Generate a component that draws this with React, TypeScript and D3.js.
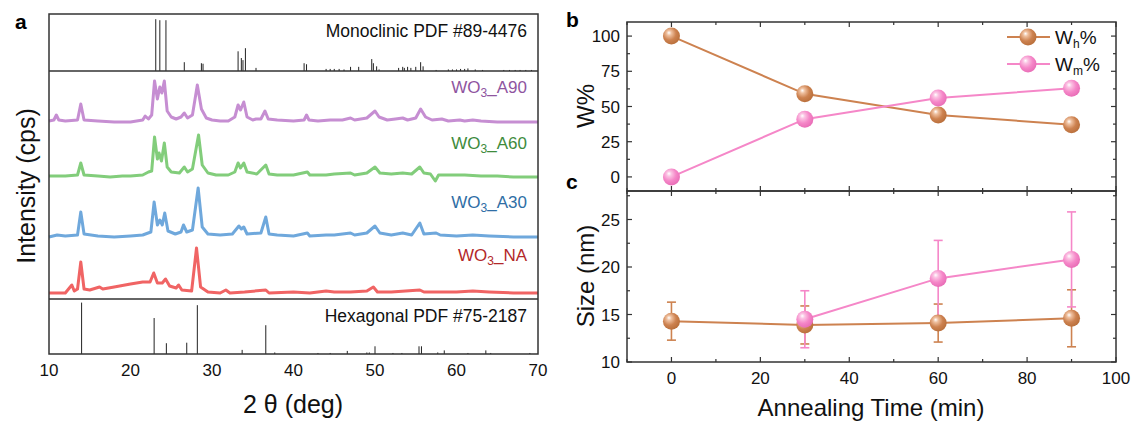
import React from 'react';
import * as d3 from 'd3';

// ---- panel a data (2θ in deg, intensity above each trace's baseline) ----
const monoclinicRef: [number, number][] = [
  [23.1, 100], [23.6, 98], [24.35, 98], [26.6, 17], [28.7, 15], [28.9, 14],
  [33.2, 38], [33.6, 25], [33.8, 21], [34.1, 44], [35.4, 6], [41.3, 15], [41.6, 13],
  [44.0, 4], [44.5, 4], [45.0, 4], [45.6, 4], [46.2, 3], [47.0, 8], [48.0, 8],
  [49.6, 23], [49.8, 15], [50.2, 9], [50.5, 3], [52.9, 6], [53.4, 8], [53.6, 6],
  [54.0, 8], [54.4, 6], [55.0, 8], [55.6, 17], [55.9, 9], [57.5, 2], [59.0, 3],
  [59.5, 3], [60.0, 3], [60.5, 4], [61.0, 4], [61.4, 5], [62.3, 3], [63.2, 2],
  [65.8, 2], [66.5, 2], [67.2, 2], [67.8, 2], [68.5, 2], [69.2, 2],
];

const hexagonalRef: [number, number][] = [
  [14.0, 100], [22.9, 70], [24.4, 21], [26.9, 22], [28.2, 95], [33.7, 8], [36.6, 56],
  [37.7, 3], [43.0, 2], [44.5, 2], [46.6, 6], [49.0, 3], [49.3, 3], [50.0, 15],
  [52.2, 2], [53.3, 2], [55.4, 15], [55.7, 15], [57.7, 3], [58.5, 7], [61.4, 2],
  [63.6, 7], [64.2, 2], [69.0, 2],
];

const xrdA90: [number, number][] = [
  [10, 2], [10.6, 3], [10.9, 8], [11.2, 3], [12, 2], [13.5, 3], [13.9, 19], [14.3, 3], [16, 2],
  [18, 1], [20, 1], [21.5, 3], [21.8, 7], [22.2, 4], [22.6, 8], [22.95, 42], [23.3, 24],
  [23.6, 36], [23.85, 30], [24.15, 42], [24.5, 12], [25, 6], [25.6, 4], [26.2, 6], [26.6, 10],
  [27, 5], [27.6, 8], [28.2, 38], [28.7, 14], [29.3, 5], [30, 3], [31, 2], [32, 2], [32.8, 6],
  [33.2, 18], [33.5, 13], [33.9, 21], [34.3, 6], [35, 3], [35.4, 4], [36, 4], [36.5, 12],
  [36.9, 4], [38, 3], [40, 2], [41.3, 3], [41.6, 8], [41.9, 3], [43, 2], [44.5, 3], [46, 3],
  [47, 5], [47.5, 3], [49, 5], [50, 12], [50.5, 6], [51.5, 3], [52.5, 4], [53.4, 5], [54, 3],
  [55, 5], [55.6, 14], [56.2, 6], [57, 3], [58.2, 4], [59, 2], [60.4, 3], [61, 2], [62, 3],
  [63, 2], [65, 1], [67, 1], [70, 1],
];

const xrdA60: [number, number][] = [
  [10, 1], [12, 1], [13.5, 2], [13.9, 14], [14.3, 2], [16, 1], [17.5, 0], [19, 1], [20, 1],
  [21.5, 2], [22.2, 5], [22.6, 6], [22.95, 40], [23.3, 18], [23.5, 24], [23.8, 16], [24.15, 34],
  [24.5, 10], [25, 5], [26, 4], [26.6, 10], [27, 5], [27.6, 8], [28.35, 42], [28.8, 12],
  [29.5, 4], [30.5, 2], [32, 2], [32.8, 5], [33.2, 14], [33.5, 9], [33.9, 14], [34.3, 5],
  [35.5, 3], [36.6, 12], [37, 3], [38, 2], [40, 2], [41.7, 5], [42, 2], [44, 2], [45, 3],
  [47, 4], [47.5, 2], [49, 4], [50, 10], [50.6, 4], [52, 3], [53.4, 4], [54.5, 3], [55.5, 10],
  [56, 4], [56.8, 3], [57.4, -4], [57.8, 2], [59, 2], [61, 2], [63, 1], [65, 1], [67, 0], [70, 0],
];

const xrdA30: [number, number][] = [
  [10, 0], [11, 2], [12, 1], [13.5, 2], [13.9, 25], [14.3, 3], [16, 1], [18, 0], [20, 1],
  [21.5, 2], [22.5, 5], [22.9, 35], [23.3, 12], [23.6, 17], [23.9, 12], [24.2, 24], [24.6, 6],
  [25.5, 3], [26.2, 5], [26.5, 12], [26.9, 5], [27.6, 7], [28.3, 49], [28.8, 10], [29.5, 3],
  [31, 2], [32.5, 3], [33.3, 11], [33.6, 8], [33.9, 10], [34.3, 3], [36, 4], [36.6, 20],
  [37, 3], [38, 2], [40, 1], [41.7, 4], [42, 1], [44, 2], [45, 2], [47, 4], [47.5, 2], [49, 4],
  [50, 11], [50.6, 4], [52, 2], [53.4, 4], [54.5, 2], [55.5, 14], [56, 3], [57.5, 4], [58, 2],
  [60, 1], [62, 2], [64, 1], [67, 0], [70, 0],
];

const xrdNA: [number, number][] = [
  [10, 0], [12, 0], [12.8, 8], [13.1, 2], [13.5, 4], [13.9, 31], [14.3, 4], [15, 3], [16.2, 6],
  [16.6, 4], [18, 6], [20, 9], [21.5, 11], [22.4, 11], [22.85, 20], [23.3, 10], [23.9, 10],
  [24.3, 14], [24.8, 7], [25.6, 5], [25.9, 8], [26.3, 3], [27.5, 2], [28.1, 45], [28.6, 6],
  [29.5, 1], [31, 0], [31.7, 3], [32.2, 0], [34, 1], [36.6, 3], [37, 0], [40, 1], [42, 0],
  [44, 2], [45, 1], [47, 1], [49, 2], [49.8, 6], [50.3, 1], [52, 1], [55.5, 3], [56, 1],
  [60, 1], [62, 2], [64, 1], [67, 0], [70, 0],
];

const xrdTicks = [10, 20, 30, 40, 50, 60, 70];

// ---- panels b, c ----
const annealTime = [0, 30, 60, 90];
const wH = [100, 59, 44, 37];
const wM = [0, 41, 56, 63];
const sizeH = [14.3, 13.9, 14.1, 14.6];
const sizeHErr = [2.0, 2.0, 2.0, 3.0];
const sizeMTime = [30, 60, 90];
const sizeM = [14.5, 18.8, 20.8];
const sizeMErr = [3.0, 4.0, 5.0];
const timeTicks = [0, 20, 40, 60, 80, 100];
const wTicks = [0, 25, 50, 75, 100];
const sizeTicks = [10, 15, 20, 25];

const FONT = '"Liberation Sans", Arial, Helvetica, sans-serif';
const BROWN = '#cd8250';
const PINK = '#f587c8';

const xA = d3.scaleLinear().domain([10, 70]).range([49, 538]);
const yMono = d3.scaleLinear().domain([0, 110]).range([71, 14]);
const yMid = d3.scaleLinear().domain([0, 228]).range([299, 71]);
const yHex = d3.scaleLinear().domain([0, 107]).range([354, 299]);

const xT = d3.scaleLinear().domain([-10, 100]).range([627, 1116]);
const yW = d3.scaleLinear().domain([-10, 110]).range([191, 22]);
const yS = d3.scaleLinear().domain([10, 28]).range([362, 191]);

const traces = [
  { data: xrdA90, base: 176, line: '#c68ed2', text: '#8f559f', tag: 'A90', ly: 93 },
  { data: xrdA60, base: 122, line: '#82cd7b', text: '#3e8b3c', tag: 'A60', ly: 149 },
  { data: xrdA30, base: 62, line: '#6fa8dc', text: '#2f6ea5', tag: 'A30', ly: 208 },
  { data: xrdNA, base: 6, line: '#f06464', text: '#b3282a', tag: 'NA', ly: 261 },
];

function Sphere({ cx, cy, id }: { cx: number; cy: number; id: string }) {
  return <circle cx={cx} cy={cy} r={8.5} fill={`url(#${id})`} />;
}

function Frame({ x, y, t, xTicksMajor, xMinor, yMajor, yMinor }: any) {
  const [x0, x1] = x.range();
  const [y0, y1] = y.range();
  const out: React.ReactNode[] = [];
  xTicksMajor.forEach((v: number, i: number) => {
    const px = x(v);
    out.push(<line key={`xb${t}${i}`} x1={px} x2={px} y1={y0} y2={y0 - 5} />);
    out.push(<line key={`xt${t}${i}`} x1={px} x2={px} y1={y1} y2={y1 + 5} />);
  });
  xMinor.forEach((v: number, i: number) => {
    const px = x(v);
    out.push(<line key={`xbm${t}${i}`} x1={px} x2={px} y1={y0} y2={y0 - 3} />);
    out.push(<line key={`xtm${t}${i}`} x1={px} x2={px} y1={y1} y2={y1 + 3} />);
  });
  yMajor.forEach((v: number, i: number) => {
    const py = y(v);
    out.push(<line key={`yl${t}${i}`} x1={x0} x2={x0 + 5} y1={py} y2={py} />);
    out.push(<line key={`yr${t}${i}`} x1={x1} x2={x1 - 5} y1={py} y2={py} />);
  });
  yMinor.forEach((v: number, i: number) => {
    const py = y(v);
    out.push(<line key={`ylm${t}${i}`} x1={x0} x2={x0 + 3} y1={py} y2={py} />);
    out.push(<line key={`yrm${t}${i}`} x1={x1} x2={x1 - 3} y1={py} y2={py} />);
  });
  return (
    <g stroke="#333" strokeWidth={1.2}>
      {out}
      <rect x={x0} y={y1} width={x1 - x0} height={y0 - y1} fill="none" strokeWidth={1.5} />
    </g>
  );
}

export default function App() {
  const line = d3.line<[number, number]>().x((d) => xA(d[0]));

  const whPts = annealTime.map((t, i) => [xT(t), yW(wH[i])] as [number, number]);
  const wmPts = annealTime.map((t, i) => [xT(t), yW(wM[i])] as [number, number]);
  const shPts = annealTime.map((t, i) => [xT(t), yS(sizeH[i])] as [number, number]);
  const smPts = sizeMTime.map((t, i) => [xT(t), yS(sizeM[i])] as [number, number]);
  const pathOf = (p: [number, number][]) => d3.line()(p) || '';

  return (
    <svg width={1131} height={422} style={{ position: 'absolute', left: 0, top: 0 }} fontFamily={FONT}>
      <defs>
        <radialGradient id="gBrown" cx="40%" cy="38%" r="65%" fx="35%" fy="30%">
          <stop offset="0%" stopColor="#ffffff" />
          <stop offset="22%" stopColor="#efc09f" />
          <stop offset="60%" stopColor={BROWN} />
          <stop offset="100%" stopColor="#b86e3a" />
        </radialGradient>
        <radialGradient id="gPink" cx="40%" cy="38%" r="65%" fx="35%" fy="30%">
          <stop offset="0%" stopColor="#ffffff" />
          <stop offset="22%" stopColor="#fbc3e3" />
          <stop offset="60%" stopColor={PINK} />
          <stop offset="100%" stopColor="#e86cb6" />
        </radialGradient>
      </defs>

      {/* ---------- panel a ---------- */}
      <text x={15} y={29} fontSize={21} fontWeight="bold">a</text>

      <g stroke="#222" strokeWidth={1}>
        {monoclinicRef.map(([d, v], i) => (
          <line key={`m${i}`} x1={xA(d)} x2={xA(d)} y1={yMono(0)} y2={yMono(v)} />
        ))}
        {hexagonalRef.map(([d, v], i) => (
          <line key={`h${i}`} x1={xA(d)} x2={xA(d)} y1={yHex(0)} y2={yHex(v)} />
        ))}
      </g>

      {traces.map((tr) => (
        <path
          key={tr.tag}
          d={line.y((d) => yMid(d[1] + tr.base))(tr.data) || ''}
          fill="none"
          stroke={tr.line}
          strokeWidth={3}
          strokeLinejoin="round"
        />
      ))}

      {traces.map((tr) => (
        <text key={`t${tr.tag}`} x={527} y={tr.ly} fontSize={17} fill={tr.text} textAnchor="end">
          WO<tspan fontSize={12} dy={4}>3</tspan>
          <tspan dy={-4}>_{tr.tag}</tspan>
        </text>
      ))}

      <text x={527} y={37} fontSize={17.5} textAnchor="end" fill="#111">Monoclinic PDF #89-4476</text>
      <text x={527} y={322} fontSize={17.5} textAnchor="end" fill="#111">Hexagonal PDF #75-2187</text>

      <g stroke="#333" strokeWidth={1.5} fill="none">
        <rect x={49} y={14} width={489} height={340} />
        <line x1={49} x2={538} y1={71} y2={71} />
        <line x1={49} x2={538} y1={299} y2={299} />
      </g>
      {xrdTicks.map((v) => (
        <text key={`xa${v}`} x={xA(v)} y={376} fontSize={17} textAnchor="middle" fill="#111">{v}</text>
      ))}
      <text x={293} y={413} fontSize={25} textAnchor="middle" fill="#111">2 θ (deg)</text>
      <text transform="translate(27,186) rotate(-90)" fontSize={25} textAnchor="middle" fill="#111" dy={8}>
        Intensity (cps)
      </text>

      {/* ---------- panel b ---------- */}
      <text x={566} y={27} fontSize={21} fontWeight="bold">b</text>
      <Frame x={xT} y={yW} t="b" xTicksMajor={timeTicks} xMinor={[-10, 10, 30, 50, 70, 90]}
        yMajor={wTicks} yMinor={[12.5, 37.5, 62.5, 87.5]} />
      {wTicks.map((v) => (
        <text key={`wt${v}`} x={620} y={yW(v) + 6} fontSize={17} textAnchor="end" fill="#111">{v}</text>
      ))}
      <text transform="translate(594,106) rotate(-90)" fontSize={24} textAnchor="middle" fill="#111">W%</text>

      <path d={pathOf(whPts)} fill="none" stroke={BROWN} strokeWidth={2} />
      <path d={pathOf(wmPts)} fill="none" stroke={PINK} strokeWidth={2} />
      {whPts.map((p, i) => <Sphere key={`wh${i}`} cx={p[0]} cy={p[1]} id="gBrown" />)}
      {wmPts.map((p, i) => <Sphere key={`wm${i}`} cx={p[0]} cy={p[1]} id="gPink" />)}

      {/* legend */}
      <g>
        <line x1={1007} x2={1050} y1={37} y2={37} stroke={BROWN} strokeWidth={2} />
        <Sphere cx={1028} cy={37} id="gBrown" />
        <text x={1055} y={44} fontSize={19} fill="#111">
          W<tspan fontSize={12} dy={4}>h</tspan><tspan dy={-4}>%</tspan>
        </text>
        <line x1={1007} x2={1050} y1={64} y2={64} stroke={PINK} strokeWidth={2} />
        <Sphere cx={1028} cy={64} id="gPink" />
        <text x={1055} y={71} fontSize={19} fill="#111">
          W<tspan fontSize={12} dy={4}>m</tspan><tspan dy={-4}>%</tspan>
        </text>
      </g>

      {/* ---------- panel c ---------- */}
      <text x={566} y={189} fontSize={21} fontWeight="bold">c</text>
      <Frame x={xT} y={yS} t="c" xTicksMajor={timeTicks} xMinor={[-10, 10, 30, 50, 70, 90]}
        yMajor={sizeTicks} yMinor={[12.5, 17.5, 22.5, 27.5]} />
      {sizeTicks.map((v) => (
        <text key={`st${v}`} x={620} y={yS(v) + 6} fontSize={17} textAnchor="end" fill="#111">{v}</text>
      ))}
      {timeTicks.map((v) => (
        <text key={`tt${v}`} x={xT(v)} y={384} fontSize={17} textAnchor="middle" fill="#111">{v}</text>
      ))}
      <text transform="translate(594,276) rotate(-90)" fontSize={24} textAnchor="middle" fill="#111">Size (nm)</text>
      <text x={871} y={416} fontSize={24} textAnchor="middle" fill="#111">Annealing Time (min)</text>

      {/* error bars */}
      <g stroke={BROWN} strokeWidth={1.6}>
        {annealTime.map((t, i) => {
          const x = xT(t);
          const yt = yS(sizeH[i] + sizeHErr[i]);
          const yb = yS(sizeH[i] - sizeHErr[i]);
          return (
            <g key={`eh${i}`}>
              <line x1={x} x2={x} y1={yt} y2={yb} />
              <line x1={x - 4.5} x2={x + 4.5} y1={yt} y2={yt} />
              <line x1={x - 4.5} x2={x + 4.5} y1={yb} y2={yb} />
            </g>
          );
        })}
      </g>
      <g stroke={PINK} strokeWidth={1.6}>
        {sizeMTime.map((t, i) => {
          const x = xT(t);
          const yt = yS(sizeM[i] + sizeMErr[i]);
          const yb = yS(sizeM[i] - sizeMErr[i]);
          return (
            <g key={`em${i}`}>
              <line x1={x} x2={x} y1={yt} y2={yb} />
              <line x1={x - 4.5} x2={x + 4.5} y1={yt} y2={yt} />
              <line x1={x - 4.5} x2={x + 4.5} y1={yb} y2={yb} />
            </g>
          );
        })}
      </g>
      <path d={pathOf(shPts)} fill="none" stroke={BROWN} strokeWidth={2} />
      <path d={pathOf(smPts)} fill="none" stroke={PINK} strokeWidth={2} />
      {shPts.map((p, i) => <Sphere key={`sh${i}`} cx={p[0]} cy={p[1]} id="gBrown" />)}
      {smPts.map((p, i) => <Sphere key={`sm${i}`} cx={p[0]} cy={p[1]} id="gPink" />)}
    </svg>
  );
}
